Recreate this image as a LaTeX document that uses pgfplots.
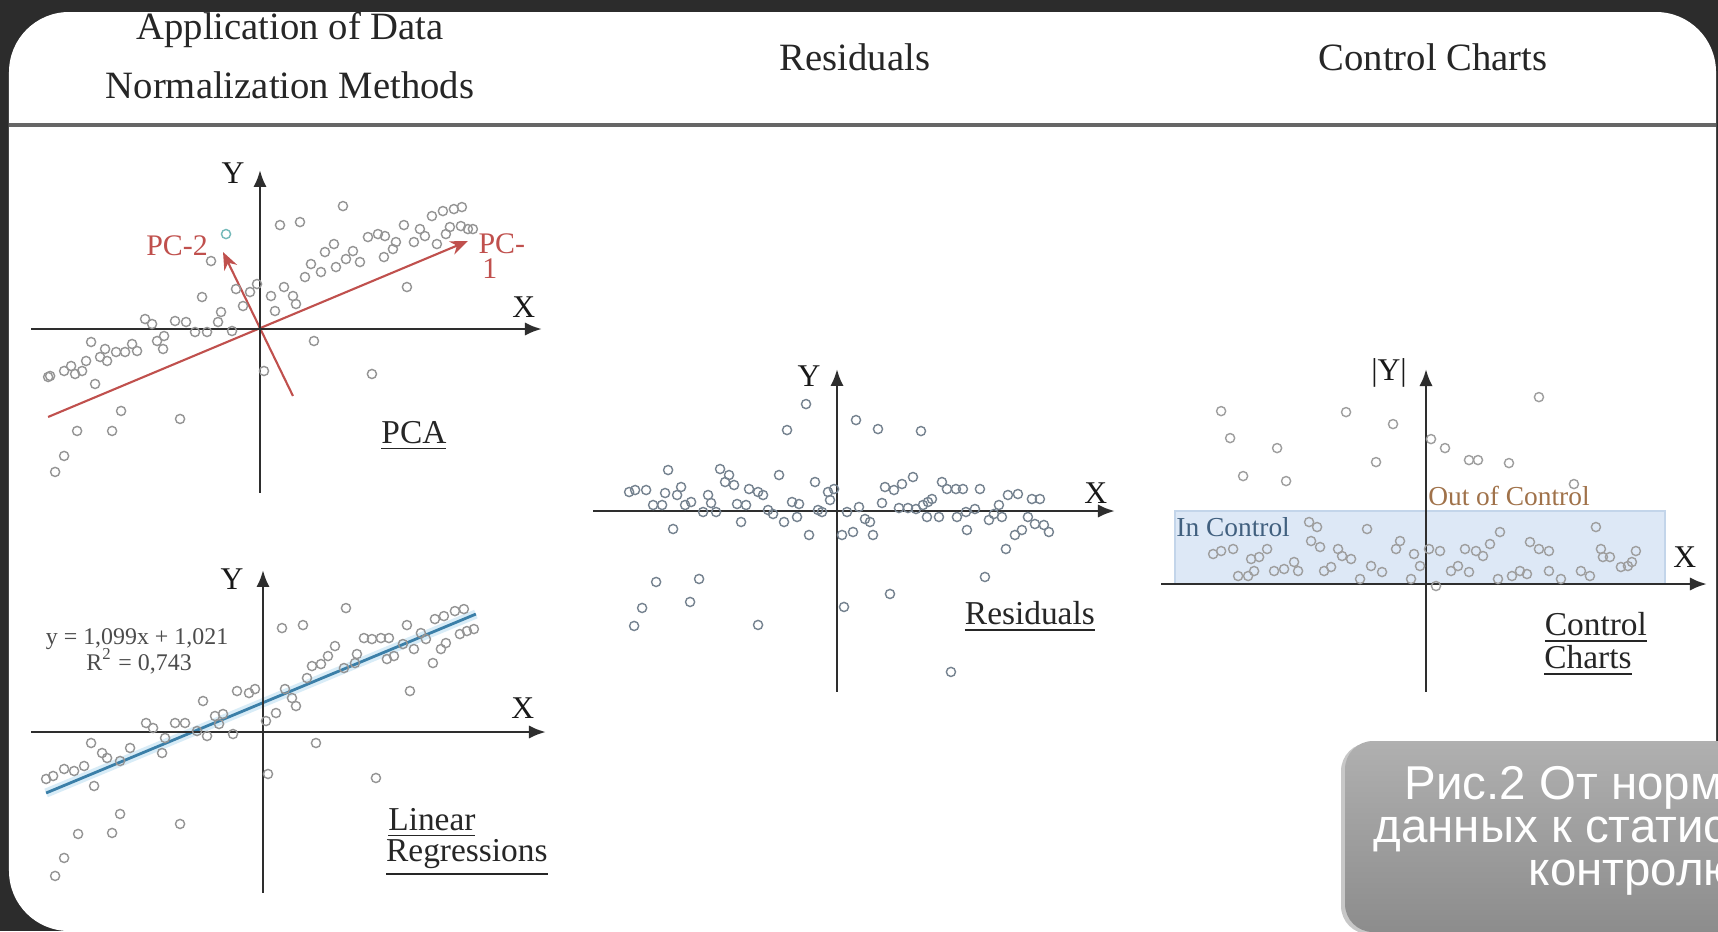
\documentclass[border=0pt]{standalone}
\usepackage{pgfplots}
\pgfplotsset{compat=1.18}
\usepackage{fontspec}
\setmainfont{Liberation Serif}
\newfontfamily\capfont{Liberation Sans}
\usetikzlibrary{arrows.meta}
\definecolor{bgdark}{HTML}{2C2C2C}
\definecolor{pcred}{HTML}{C0504D}
\definecolor{regblue}{HTML}{3B7FA8}
\definecolor{reglight}{HTML}{BFE0F2}
\definecolor{band}{HTML}{DDE8F6}
\definecolor{bandedge}{HTML}{C3D5EA}
\definecolor{ctrlblue}{HTML}{41607F}
\definecolor{outbrown}{HTML}{A0724A}
\definecolor{resmark}{HTML}{75828F}
\pgfplotsset{
  panel/.style={x=0.01cm, y=0.01cm, axis lines=middle, ticks=none, clip=false,
    anchor=origin, axis on top,
    axis line style={line width=0.75pt, black!82, -{Latex[length=4.8pt,width=3.8pt]}}},
  pts/.style={only marks, mark=o, mark size=1.3pt, mark options={line width=0.4pt, draw=#1}},
}
\tikzset{
  lbl/.style={font=\fontsize{9.5}{11}\selectfont, text=black!85},
  axl/.style={font=\fontsize{9}{10}\selectfont, text=black!90},
}
\begin{document}
\begin{tikzpicture}
\clip (0,0) rectangle (17.18,9.31);
\fill[bgdark] (0,0) rectangle (17.18,9.31);
\fill[white, rounded corners=0.6cm] (0.09,0.0) rectangle (17.16,9.19);
\draw[black!60, line width=0.9pt] (0.09,8.06) -- (17.16,8.06);

\node[font=\fontsize{11}{13}\selectfont, text=black!85] at (2.90,9.01) {Application of Data};
\node[font=\fontsize{11}{13}\selectfont, text=black!85] at (2.90,8.46) {Normalization Methods};
\node[font=\fontsize{11}{13}\selectfont, text=black!85] at (8.55,8.74) {Residuals};
\node[font=\fontsize{11}{13}\selectfont, text=black!85] at (14.33,8.74) {Control Charts};

% ---------- PCA ----------
\begin{axis}[panel, at={(2.60cm,6.02cm)}, xmin=-229, xmax=282, ymin=-164, ymax=159]
\addplot[pts=black!42] coordinates {
(83,123) (20,104) (40,107) (-49,68) (-58,32) (-24,40) (-3,45) (-10,37) (11,33) (24,42)
(33,33) (36,25) (15,18) (-17,23) (-39,17) (-42,7) (-28,-2) (-53,-3) (-65,-3) (-74,7)
(-85,8) (-115,10) (-108,5) (-96,-7) (-97,-20) (-103,-12) (-128,-15) (-123,-22) (-135,-23) (-144,-23)
(-155,-20) (-169,-13) (-160,-28) (-153,-32) (-174,-32) (-178,-42) (-189,-37) (-185,-45) (-196,-42) (-210,-47)
(-212,-48) (-165,-55) (-139,-82) (-80,-90) (-183,-102) (-148,-102) (-196,-127) (-205,-143) (4,-42) (54,-12)
(112,-45) (147,42) (45,52) (51,65) (61,57) (65,77) (74,85) (76,62) (86,70) (93,78)
(100,67) (108,92) (118,95) (125,93) (144,104) (124,72) (133,80) (136,87) (154,87) (160,100)
(165,93) (172,113) (183,118) (194,120) (202,122) (177,85) (186,95) (190,102) (201,103) (208,100) (213,100)
};
\addplot[pts={teal!55}] coordinates {(-34,95)};
\addplot[pcred, line width=0.6pt, -{Stealth[length=5pt,width=4pt]}] coordinates {(-212,-88) (208,88)};
\addplot[pcred, line width=0.6pt, -{Stealth[length=5pt,width=4pt]}] coordinates {(33,-67) (-37,77)};
\node[font=\fontsize{8.5}{10}\selectfont, text=pcred] at (axis cs:-83,83) {PC-2};
\node[font=\fontsize{8.5}{10}\selectfont, text=pcred] at (axis cs:242,85) {PC-};
\node[font=\fontsize{8.5}{10}\selectfont, text=pcred] at (axis cs:230,60) {1};
\node[axl] at (axis cs:-27,156) {Y};
\node[axl] at (axis cs:264,22) {X};
\node[lbl] at (axis cs:154,-107) {\underline{PCA}};
\end{axis}

% ---------- Linear regression ----------
\begin{axis}[panel, at={(2.63cm,1.99cm)}, xmin=-232, xmax=283, ymin=-161, ymax=162]
\addplot[pts=black!42] coordinates {
(83,124) (19,104) (40,107) (144,107) (101,94) (109,93) (118,94) (126,94) (158,99) (172,113)
(181,116) (192,121) (201,123) (211,103) (204,101) (197,98) (183,89) (178,83) (163,93) (151,83)
(140,88) (131,76) (170,69) (124,73) (94,78) (92,69) (81,64) (72,86) (65,76) (58,68)
(49,66) (44,54) (147,41) (22,43) (33,26) (29,34) (13,19) (3,11) (-8,43) (-14,39)
(-26,41) (-60,31) (-40,18) (-48,16) (-44,8) (-30,-2) (-56,-4) (-66,1) (-78,9) (-88,9)
(-117,9) (-110,4) (-98,-6) (-101,-21) (-133,-16) (-143,-29) (-156,-26) (-161,-21) (-172,-11) (-179,-34)
(-189,-39) (-199,-37) (-210,-44) (-217,-47) (-169,-54) (53,-11) (5,-42) (113,-46) (-143,-82) (-83,-92)
(-185,-102) (-151,-101) (-199,-126) (-208,-144)
};
\addplot[reglight, line width=2.6pt, opacity=0.6] coordinates {(-217,-61) (213,118)};
\addplot[regblue, line width=0.8pt] coordinates {(-217,-61) (213,118)};
\node[font=\fontsize{6.8}{8}\selectfont, text=black!70] at (axis cs:-126,93) {y = 1,099x + 1,021};
\node[font=\fontsize{6.8}{8}\selectfont, text=black!70] at (axis cs:-124,71) {R\textsuperscript{2} = 0,743};
\node[axl] at (axis cs:-31,153) {Y};
\node[axl] at (axis cs:260,24) {X};
\node[lbl] at (axis cs:169,-91) {\underline{Linear}};
\node[lbl] at (axis cs:204,-126) {\underline{Regressions}};
\end{axis}

% ---------- Residuals ----------
\begin{axis}[panel, at={(8.37cm,4.20cm)}, xmin=-244, xmax=278, ymin=-181, ymax=142]
\addplot[pts=resmark] coordinates {
(-31,107) (-50,81) (19,91) (41,82) (84,80) (-169,41) (-117,42) (-108,36) (-112,29) (-103,26)
(-58,36) (-22,29) (-208,19) (-202,21) (-191,21) (-172,18) (-160,16) (-156,24) (-184,6) (-175,6)
(-152,6) (-146,9) (-134,-1) (-129,16) (-126,8) (-121,-1) (-100,7) (-91,6) (-88,22) (-79,19)
(-74,16) (-96,-11) (-164,-18) (-69,1) (-64,-3) (-53,-11) (-45,9) (-38,7) (-40,-6) (-19,1)
(-15,-1) (-28,-24) (-9,19) (-3,22) (-7,11) (10,-1) (22,4) (28,-8) (33,-11) (36,-24)
(16,-21) (5,-24) (45,8) (48,24) (57,21) (65,27) (76,34) (62,3) (71,3) (79,2)
(86,6) (91,9) (95,12) (90,-6) (102,-6) (105,29) (110,22) (119,22) (126,22) (143,22)
(120,-6) (129,-1) (138,2) (130,-19) (152,-9) (157,-3) (162,6) (165,-6) (171,16) (181,17)
(195,12) (203,12) (191,-6) (198,-13) (207,-14) (212,-21) (185,-19) (178,-24) (169,-38) (148,-66)
(53,-83) (7,-96) (114,-161) (-181,-71) (-138,-68) (-195,-97) (-147,-91) (-203,-115) (-79,-114)
};
\node[axl] at (axis cs:-28,135) {Y};
\node[axl] at (axis cs:259,18) {X};
\node[lbl] at (axis cs:193,-106) {\underline{Residuals}};
\end{axis}

% ---------- Control charts ----------
\begin{axis}[panel, at={(14.26cm,3.47cm)}, xmin=-265, xmax=281, ymin=-108, ymax=215]
\addplot[fill=band, draw=bandedge, line width=0.4pt] coordinates {(-251,0) (239,0) (239,73) (-251,73) (-251,0)};
\addplot[pts=black!38] coordinates {
(-205,173) (-80,172) (-33,160) (113,187) (-196,146) (-149,136) (-50,122) (5,145) (19,136) (43,124)
(52,124) (83,121) (-183,108) (-140,103) (148,100)
(-117,62) (-109,57) (-59,55) (-115,43) (-106,37) (-88,35) (-84,28) (-75,25) (-213,30) (-205,33)
(-193,35) (-175,25) (-167,27) (-159,35) (-132,22) (-128,13) (-142,15) (-152,13) (-188,8) (-178,8)
(-172,13) (-102,13) (-95,17) (-55,18) (-44,12) (-26,43) (-30,35) (-12,30) (-6,18) (3,35)
(14,33) (25,13) (32,18) (43,12) (39,35) (50,33) (57,28) (64,40) (74,52) (72,5)
(86,8) (94,13) (101,10) (104,42) (113,35) (123,33) (123,13) (135,5) (155,13) (164,8)
(170,57) (175,35) (177,27) (184,27) (195,17) (202,18) (210,33) (206,22) (-66,5) (10,-2) (-15,5)
};
\node[font=\fontsize{7.8}{9}\selectfont, text=ctrlblue] at (axis cs:-193,57) {In Control};
\node[font=\fontsize{7.8}{9}\selectfont, text=outbrown] at (axis cs:83,88) {Out of Control};
\node[axl] at (axis cs:-37,211) {|Y|};
\node[axl] at (axis cs:259,27) {X};
\node[lbl] at (axis cs:170,-44) {\underline{Control}};
\node[lbl] at (axis cs:162,-77) {\underline{Charts}};
\end{axis}

% ---------- caption box ----------
\fill[black!22, rounded corners=0.28cm] (13.41,-0.03) rectangle (17.6,1.88);
\shade[top color=gray!62, bottom color=gray!90, rounded corners=0.28cm] (13.45,-0.01) rectangle (17.6,1.90);
\begin{scope}[every node/.style={anchor=base west, inner sep=0pt, text=white, font=\capfont\fontsize{13.5}{16}\selectfont}]
\node at (14.04,1.32) {Рис.2 От нормализации};
\node at (13.73,0.89) {данных к статистическому};
\node at (15.28,0.46) {контролю};
\end{scope}
\end{tikzpicture}
\end{document}
